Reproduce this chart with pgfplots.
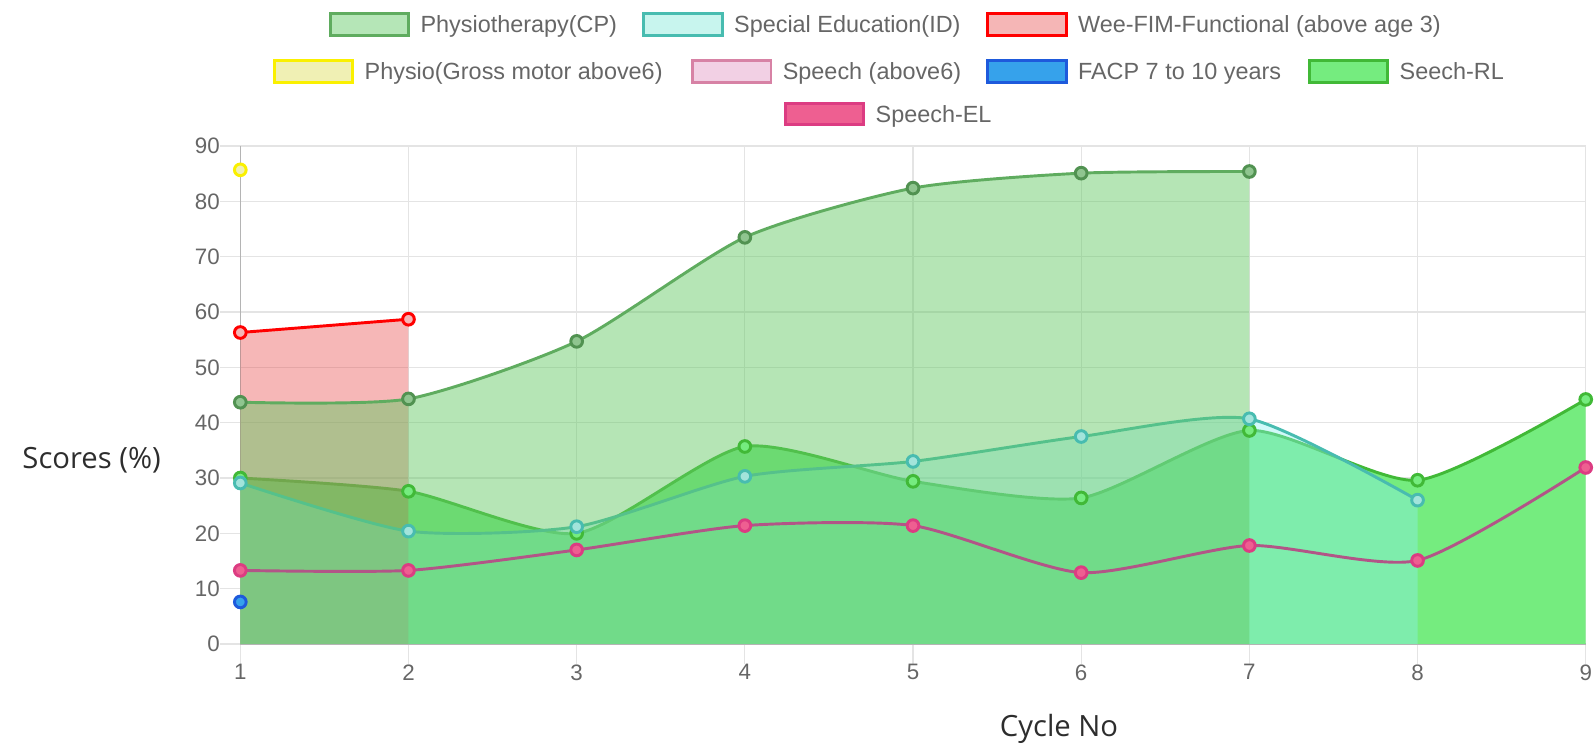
\documentclass[border=0pt]{standalone}
\usepackage{pgfplots}
\usepackage{pgfplotstable}
\pgfplotsset{compat=1.18}
\usepackage{fontspec}
\setmainfont{Liberation Sans}
\newfontfamily\osfont{Open Sans}

\definecolor{gridc}{RGB}{228,228,228}
\definecolor{axisc}{RGB}{180,180,180}
\definecolor{tickc}{RGB}{102,102,102}
\definecolor{legtext}{RGB}{102,102,102}
\definecolor{labc}{RGB}{45,45,45}

\definecolor{physfill}{RGB}{100,200,100}
\definecolor{physline}{RGB}{95,172,95}
\definecolor{physleg}{RGB}{181,230,183}
\definecolor{sefill}{RGB}{140,240,240}
\definecolor{seline}{RGB}{72,188,176}
\definecolor{seleg}{RGB}{200,245,238}
\definecolor{weefill}{RGB}{230,60,60}
\definecolor{weeline}{RGB}{255,0,0}
\definecolor{weeleg}{RGB}{245,182,182}
\definecolor{yelfill}{RGB}{240,240,180}
\definecolor{yelline}{RGB}{250,240,0}
\definecolor{spfill}{RGB}{242,208,228}
\definecolor{spline}{RGB}{215,130,165}
\definecolor{facpfill}{RGB}{54,162,235}
\definecolor{facpline}{RGB}{30,90,220}
\definecolor{rlfill}{RGB}{117,236,127}
\definecolor{rlline}{RGB}{65,185,55}
\definecolor{elfill}{RGB}{238,95,145}
\definecolor{elline}{RGB}{178,85,135}
\definecolor{elborder}{RGB}{220,60,130}

\pgfplotstableread{
x y
1 43.7
2 44.3
3 54.7
4 73.5
5 82.4
6 85.1
7 85.4
}\physio
\pgfplotstableread{
x y
1 29.1
2 20.4
3 21.2
4 30.3
5 33.0
6 37.5
7 40.7
8 26.0
}\speced
\pgfplotstableread{
x y
1 56.3
2 58.7
}\weefim
\pgfplotstableread{
x y
1 85.7
}\gross
\pgfplotstableread{
x y
1 7.6
}\facp
\pgfplotstableread{
x y
1 30.0
2 27.6
3 20.0
4 35.7
5 29.4
6 26.4
7 38.6
8 29.6
9 44.2
}\seechrl
\pgfplotstableread{
x y
1 13.3
2 13.3
3 17.0
4 21.4
5 21.4
6 12.9
7 17.8
8 15.1
9 31.9
}\speechel

\begin{document}
\begin{tikzpicture}[x=1pt,y=1pt]
\path[use as bounding box] (0,0) rectangle (600,282.33);
\begin{axis}[
  at={(90.34pt,40.23pt)}, anchor=south west, scale only axis,
  width=505.8pt, height=187.2pt,
  xmin=1, xmax=9, ymin=0, ymax=90,
  xtick={1,2,...,9}, ytick={0,10,...,90},
  axis x line*=bottom, axis y line*=left,
  axis line style={draw=axisc, line width=0.45pt},
  grid=major, grid style={draw=gridc, line width=0.45pt},
  tick align=outside, major tick length=7.5pt,
  tick style={draw=gridc, line width=0.45pt},
  /pgf/number format/assume math mode=true,
  ticklabel style={font=\fontsize{8.4}{10}\selectfont, text=tickc},
  yticklabel style={anchor=east, inner sep=0pt},
  xticklabel style={anchor=north, inner sep=0pt},
  xlabel={Cycle No}, ylabel={Scores (\%)},
  every axis x label/.style={at={(rel axis cs:0.6085,-0.1862)}, anchor=base, font=\osfont\fontsize{11}{13}\selectfont, text=labc},
  every axis y label/.style={at={(rel axis cs:-0.1689,0.3519)}, anchor=base west, font=\osfont\fontsize{11}{13}\selectfont, text=labc},
  clip=false,
]
% Seech-RL
\addplot[draw=none, fill=rlfill, smooth, tension=0.4] table[x=x,y=y] {\seechrl} \closedcycle;
\addplot[rlline, line width=1.1pt, smooth, tension=0.4, mark=*, mark size=2.2pt,
  mark options={draw=rlline, fill=rlfill, line width=1.1pt}] table[x=x,y=y] {\seechrl};
% FACP
\addplot[only marks, mark=*, mark size=2.2pt, mark options={draw=facpline, fill=facpfill, line width=1.1pt}] table[x=x,y=y] {\facp};
% Physio gross motor
\addplot[only marks, mark=*, mark size=2.2pt, mark options={draw=yelline, fill=yelfill, line width=1.1pt}] table[x=x,y=y] {\gross};
% Wee-FIM
\addplot[draw=none, fill=weefill, fill opacity=0.37] table[x=x,y=y] {\weefim} \closedcycle;
\addplot[weeline, line width=1.1pt, mark=*, mark size=2.2pt,
  mark options={draw=weeline, fill=weeleg, line width=1.1pt}] table[x=x,y=y] {\weefim};
% Special Education
\addplot[draw=none, fill=sefill, fill opacity=0.4, smooth, tension=0.4] table[x=x,y=y] {\speced} \closedcycle;
\addplot[seline, line width=1.1pt, smooth, tension=0.4, mark=*, mark size=2.2pt,
  mark options={draw=seline, fill=seleg!70!seline, line width=1.1pt}] table[x=x,y=y] {\speced};
% Physiotherapy(CP)
\addplot[draw=none, fill=physfill, fill opacity=0.48, smooth, tension=0.4] table[x=x,y=y] {\physio} \closedcycle;
\addplot[physline, line width=1.1pt, smooth, tension=0.4, mark=*, mark size=2.2pt,
  mark options={draw=physline!85!black, fill=physline!70!white, line width=1.1pt}] table[x=x,y=y] {\physio};
% Speech-EL
\addplot[elline, line width=1.1pt, smooth, tension=0.4, mark=*, mark size=2.2pt,
  mark options={draw=elborder, fill=elfill, line width=1.1pt}] table[x=x,y=y] {\speechel};
\end{axis}

% legend
\def\legfont{\fontsize{8.8}{10}\selectfont}
\newcommand{\legitem}[5]{%
  \draw[line width=1.1pt, draw=#2, fill=#3] (#1+0.55,#4-4.05) rectangle (#1+30.05,#4+4.05);
  \node[anchor=base west, inner sep=0pt, font=\legfont, text=legtext] at (#1+34.3,#4-3.15) {#5};
}
\legitem{123.6}{physline}{physleg}{273.16}{Physiotherapy(CP)}
\legitem{241.5}{seline}{seleg}{273.16}{Special Education(ID)}
\legitem{370.8}{weeline}{weeleg}{273.16}{Wee-FIM-Functional (above age 3)}
\legitem{102.6}{yelline}{yelfill}{255.5}{Physio(Gross motor above6)}
\legitem{259.8}{spline}{spfill}{255.5}{Speech (above6)}
\legitem{370.8}{facpline}{facpfill}{255.5}{FACP 7 to 10 years}
\legitem{491.7}{rlline}{rlfill}{255.5}{Seech-RL}
\legitem{294.7}{elborder}{elfill}{239.5}{Speech-EL}
\end{tikzpicture}
\end{document}
